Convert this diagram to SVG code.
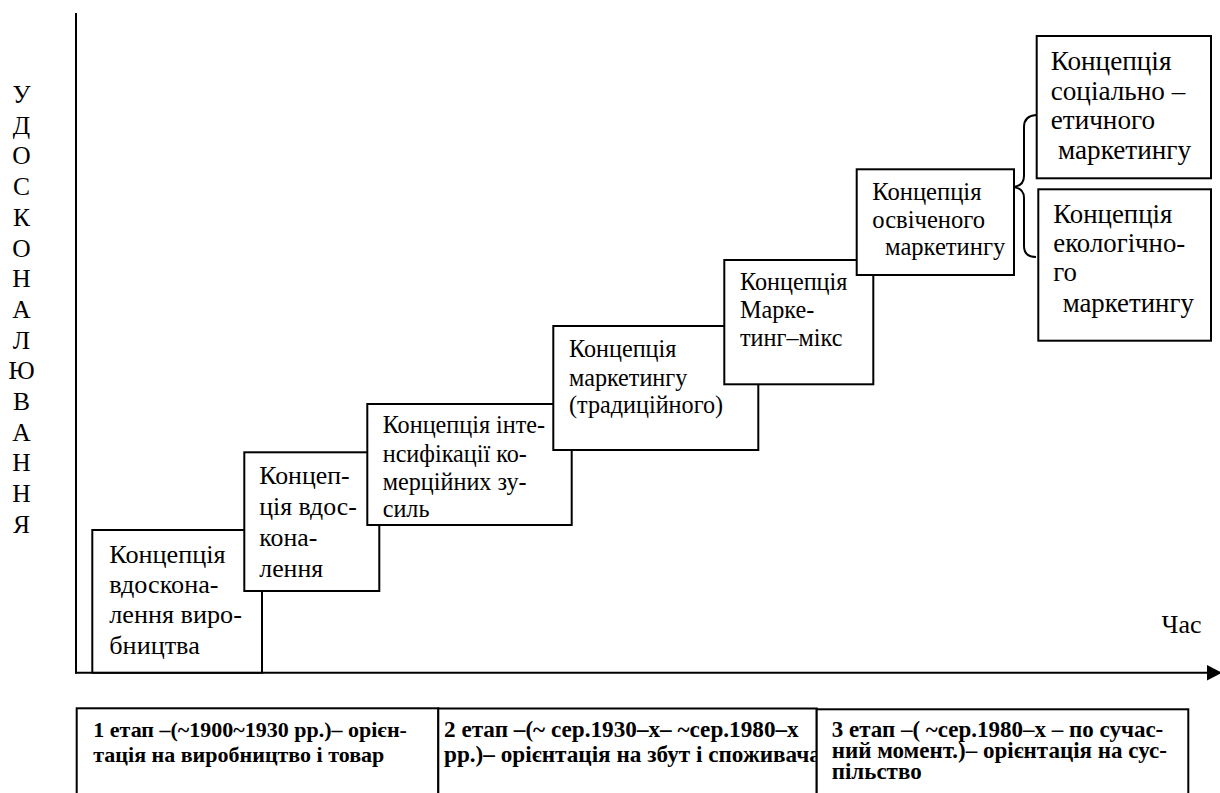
<svg xmlns="http://www.w3.org/2000/svg" width="1220" height="793" viewBox="0 0 1220 793">
<style>
.box{fill:#fff;stroke:#000;stroke-width:2}
.ln{fill:none;stroke:#000;stroke-width:2}
</style>
<defs>
<clipPath id="c2"><rect x="438.3" y="700" width="378.4" height="93"/></clipPath>
</defs>
<rect x="0" y="0" width="1220" height="793" fill="#fff"/>
<g id="connectors">
<line class="ln" x1="76" y1="13" x2="76" y2="673.5"/>
<line class="ln" x1="75" y1="672.7" x2="1210" y2="672.7"/>
<polygon points="1207,665 1222,672.7 1207,680.5" fill="#000"/>
<path class="ln" d="M1036,115 Q1024,116 1024,127 L1024,176 Q1024,186 1013,187 Q1024,188 1024,198 L1024,246 Q1024,257 1036,257" stroke-width="1.6"/>
</g>
<g font-family="Times New Roman, Liberation Serif, Tinos, DejaVu Serif, serif" fill="#000">
<g id="y-label" font-size="25.5" text-anchor="middle">
<text x="21.5" y="103">У</text>
<text x="21.5" y="133.7">Д</text>
<text x="21.5" y="164.4">О</text>
<text x="21.5" y="195.1">С</text>
<text x="21.5" y="225.8">К</text>
<text x="21.5" y="256.5">О</text>
<text x="21.5" y="287.2">Н</text>
<text x="21.5" y="317.9">А</text>
<text x="21.5" y="348.6">Л</text>
<text x="21.5" y="379.3">Ю</text>
<text x="21.5" y="410">В</text>
<text x="21.5" y="440.7">А</text>
<text x="21.5" y="471.4">Н</text>
<text x="21.5" y="502.1">Н</text>
<text x="21.5" y="532.8">Я</text>
</g>
<g id="x-label"><text font-size="26" x="1161.5" y="632.7">Час</text></g>
<g id="n1">
<rect class="box" x="92.3" y="530" width="169.7" height="142.7"/>
<text font-size="26.2" x="109.3"><tspan x="109.3" y="562.7">Концепція</tspan><tspan x="109.3" y="593">вдоскона-</tspan><tspan x="109.3" y="623.3">лення виро-</tspan><tspan x="109.3" y="653.5">бництва</tspan></text>
</g>
<g id="n2">
<rect class="box" x="244.3" y="452.3" width="135" height="138.7"/>
<text font-size="25.8" x="259.3"><tspan x="259.3" y="484">Концеп-</tspan><tspan x="259.3" y="515">ція вдос-</tspan><tspan x="259.3" y="545.7">кона-</tspan><tspan x="259.3" y="576.5">лення</tspan></text>
</g>
<g id="n3">
<rect class="box" x="367.3" y="404" width="204.4" height="121"/>
<text font-size="24.2" x="382.7"><tspan x="382.7" y="433.3">Концепція інте-</tspan><tspan x="382.7" y="462">нсифікації ко-</tspan><tspan x="382.7" y="490">мерційних зу-</tspan><tspan x="382.7" y="516.7">силь</tspan></text>
</g>
<g id="n4">
<rect class="box" x="553.3" y="326" width="205" height="124"/>
<text font-size="24.2" x="569"><tspan x="569" y="356.7">Концепція</tspan><tspan x="569" y="385.5">маркетингу</tspan><tspan x="569" y="413.3">(традиційного)</tspan></text>
</g>
<g id="n5">
<rect class="box" x="724.3" y="260" width="149" height="124.3"/>
<text font-size="24.2" x="740"><tspan x="740" y="290">Концепція</tspan><tspan x="740" y="318.3">Марке-</tspan><tspan x="740" y="345.5">тинг–мікс</tspan></text>
</g>
<g id="n6">
<rect class="box" x="856.7" y="169.3" width="157.3" height="105.7"/>
<text font-size="24.6" x="872.3"><tspan x="872.3" y="200">Концепція</tspan><tspan x="872.3" y="227.7">освіченого</tspan><tspan x="885" y="255.2">маркетингу</tspan></text>
</g>
<g id="n7">
<rect class="box" x="1036.7" y="36" width="174.3" height="142.3"/>
<text font-size="27.2" x="1050.7"><tspan x="1050.7" y="70">Концепція</tspan><tspan x="1050.7" y="99.5">соціально –</tspan><tspan x="1050.7" y="128.5">етичного</tspan><tspan x="1058" y="158.5">маркетингу</tspan></text>
</g>
<g id="n8">
<rect class="box" x="1038.3" y="189.3" width="172.7" height="151.4"/>
<text font-size="26.8" x="1053.3"><tspan x="1053.3" y="222.7">Концепція</tspan><tspan x="1053.3" y="251.7">екологічно-</tspan><tspan x="1053.3" y="280.5">го</tspan><tspan x="1062.7" y="311.7">маркетингу</tspan></text>
</g>
<g font-weight="bold">
<g id="stage1">
<rect class="box" x="76.7" y="708.3" width="361.6" height="100"/>
<text x="93.3" font-size="22"><tspan x="93.3" y="736.7">1 етап –(~1900~1930 рр.)– орієн-</tspan><tspan x="93.3" y="761.5">тація на виробництво і товар</tspan></text>
</g>
<g id="stage2">
<rect class="box" x="438.3" y="708.5" width="378.4" height="100"/>
<text x="444" font-size="23.2" clip-path="url(#c2)"><tspan x="444" y="736.7">2 етап –(~ сер.1930–х– ~сер.1980–х</tspan><tspan x="444" y="761.5">рр.)– орієнтація на збут і споживача</tspan></text>
</g>
<g id="stage3">
<rect class="box" x="816.7" y="709.3" width="371.6" height="100"/>
<text x="831.7" font-size="23"><tspan x="831.7" y="736.7">3 етап –( ~сер.1980–х – по сучас-</tspan><tspan x="831.7" y="757.5">ний момент.)– орієнтація на сус-</tspan><tspan x="831.7" y="778.5">пільство</tspan></text>
</g>
</g>
</g>
</svg>
